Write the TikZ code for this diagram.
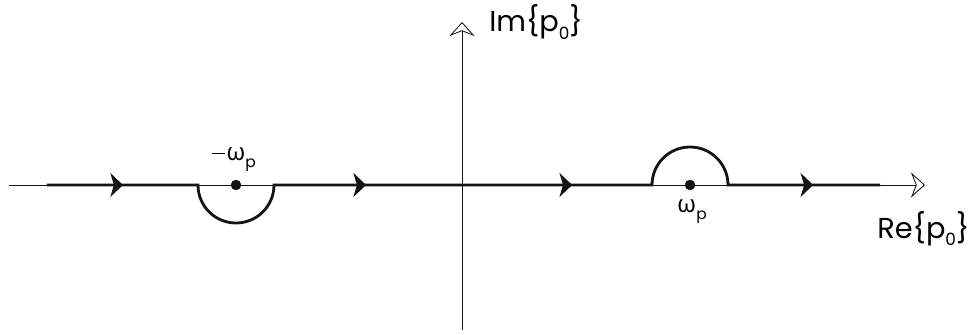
\documentclass[tikz,border=0pt]{standalone}
\usepackage{fontspec}
\setmainfont{Poppins}
\newfontfamily\greekfont{Noto Sans}
\usepackage{tikz}
\usetikzlibrary{arrows.meta, positioning, calc, decorations.markings}
\definecolor{mydark}{RGB}{20,20,20}
\tikzset{
  axis/.style={-{Stealth[open, length=10pt, width=18pt, inset=3.5pt]}, line width=0.6pt, color=mydark},
  contour/.style={line width=2pt, color=mydark, postaction={decorate}},
  polenode/.style={circle, draw=mydark, fill=mydark, minimum size=7pt, inner sep=0pt},
  axlabel/.style={font=\fontsize{20.5}{24}\selectfont, inner sep=0pt},
  polelabel/.style={font=\fontsize{17}{20}\selectfont, inner sep=0pt}
}
\newcommand{\omg}{{\greekfont ω}}
\newcommand{\mns}{\rule[0.27em]{0.55em}{0.7pt}\hspace{0.05em}}
\newcommand{\sbz}{\raisebox{-0.25em}{\fontsize{12}{12}\selectfont 0}}
\newcommand{\sbp}{\raisebox{-0.3em}{\fontsize{11}{11}\selectfont p}}
\begin{document}
\begin{tikzpicture}[x=0.025cm, y=0.025cm]
  \useasboundingbox (-462,-150) rectangle (517,185);
  % Axes
  \coordinate (O) at (0,0);
  \coordinate (xl) at (-453,0);
  \coordinate (xr) at (463,0);
  \coordinate (yb) at (0,-145);
  \coordinate (yt) at (0,163);
  \draw[axis] (xl) -- (xr);
  \draw[axis] (yb) -- (yt);
  \node[axlabel, anchor=base west] (im) at (27,153) {Im\{p\sbz\}};
  \node[axlabel, anchor=base west] (re) at (415,-53) {Re\{p\sbz\}};
  % Poles
  \node[polenode] (pl) at (-226,0) {};
  \node[polenode] (pr) at (228,0) {};
  \node[polelabel] (lpl) at (-228,25) {\mns\omg\sbp};
  \node[polelabel] (lpr) at (230,-27) {\omg\sbp};
  % Contour points
  \coordinate (c0) at (-415,0);
  \coordinate (a1) at (-264,0);
  \coordinate (b1) at (190,0);
  \coordinate (c1) at (418,0);
  % Contour with direction arrows
  \draw[contour, decoration={markings,
      mark=at position 1.9cm with {\arrow{Stealth[length=9pt, width=17pt, inset=2.5pt]}},
      mark=at position 9.06cm with {\arrow{Stealth[length=9pt, width=17pt, inset=2.5pt]}},
      mark=at position 14.21cm with {\arrow{Stealth[length=9pt, width=17pt, inset=2.5pt]}},
      mark=at position 21.32cm with {\arrow{Stealth[length=9pt, width=17pt, inset=2.5pt]}}}]
    (c0) -- (a1) arc (180:360:38) -- (b1) arc (180:0:38) -- (c1);
\end{tikzpicture}
\end{document}
